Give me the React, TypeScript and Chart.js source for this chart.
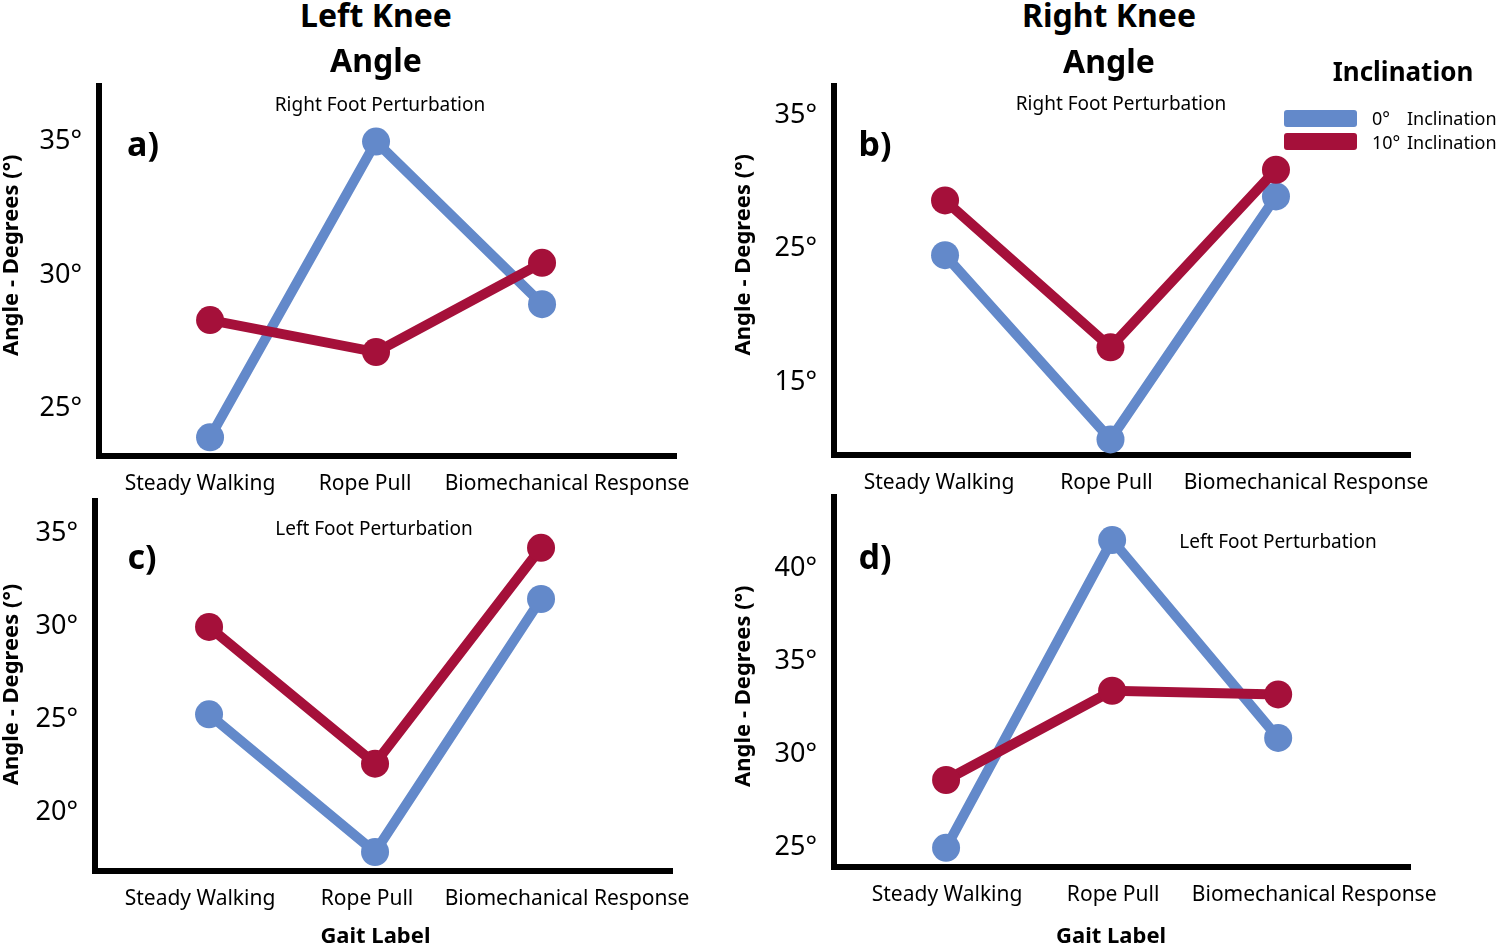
import { useEffect, useRef } from 'react';
import { Chart, registerables } from 'chart.js';

Chart.register(...registerables);

const FONT = "'Noto Sans', 'Open Sans', sans-serif";
const BLUE = '#6389ca';
const RED = '#a5103a';

// categories and series names
const gaitLabels = ['Steady Walking', 'Rope Pull', 'Biomechanical Response'];
const seriesNames = ['0° Inclination', '10° Inclination'];

// a) left knee, right foot perturbation
const leftKneeRightFoot0 = [23.9, 35.0, 28.9];
const leftKneeRightFoot10 = [28.3, 27.1, 30.45];
const ticksA = [25, 30, 35];

// b) right knee, right foot perturbation
const rightKneeRightFoot0 = [24.5, 10.7, 28.9];
const rightKneeRightFoot10 = [28.6, 17.6, 30.9];
const ticksB = [15, 25, 35];

// c) left knee, left foot perturbation
const leftKneeLeftFoot0 = [25.25, 17.85, 31.45];
const leftKneeLeftFoot10 = [29.95, 22.6, 34.2];
const ticksC = [20, 25, 30, 35];

// d) right knee, left foot perturbation
const rightKneeLeftFoot0 = [24.95, 41.5, 30.86];
const rightKneeLeftFoot10 = [28.6, 33.4, 33.2];
const ticksD = [25, 30, 35, 40];

type Box = { left: number; top: number; width: number; height: number };
type Area = { left: number; right: number; top: number; bottom: number };
type PanelSpec = {
  id: string;
  box: Box;
  area: Area;
  xRange: [number, number];
  yRange: [number, number];
  ticks: number[];
  zero: number[];
  ten: number[];
  xTitle: boolean;
  // small hand-placed shifts of the category labels, in px
  labelNudge: number[];
  // spaces around the axis titles to move them off centre like the original
  yTitlePad: [number, number];
  xTitlePad: number;
};

const panels: PanelSpec[] = [
  {
    id: 'a',
    box: { left: 0, top: 75, width: 720, height: 425 },
    area: { left: 99, right: 677, top: 83, bottom: 456 },
    xRange: [-0.669, 2.813],
    yRange: [23.2, 37.2],
    ticks: ticksA,
    zero: leftKneeRightFoot0,
    ten: leftKneeRightFoot10,
    xTitle: false,
    labelNudge: [-10, -11, 25],
    yTitlePad: [5, 0],
    xTitlePad: 0,
  },
  {
    id: 'b',
    box: { left: 732, top: 75, width: 768, height: 425 },
    area: { left: 834, right: 1411, top: 83, bottom: 455 },
    xRange: [-0.671, 2.816],
    yRange: [9.53, 37.4],
    ticks: ticksB,
    zero: rightKneeRightFoot0,
    ten: rightKneeRightFoot10,
    xTitle: false,
    labelNudge: [-6, -4, 30],
    yTitlePad: [5, 0],
    xTitlePad: 0,
  },
  {
    id: 'c',
    box: { left: 0, top: 490, width: 720, height: 458 },
    area: { left: 95, right: 673, top: 498, bottom: 871 },
    xRange: [-0.687, 2.795],
    yRange: [16.83, 36.88],
    ticks: ticksC,
    zero: leftKneeLeftFoot0,
    ten: leftKneeLeftFoot10,
    xTitle: true,
    labelNudge: [-9, -8, 26],
    yTitlePad: [0, 0],
    xTitlePad: 3,
  },
  {
    id: 'd',
    box: { left: 732, top: 486, width: 768, height: 462 },
    area: { left: 834, right: 1411, top: 494, bottom: 867 },
    xRange: [-0.675, 2.8],
    yRange: [23.92, 43.98],
    ticks: ticksD,
    zero: rightKneeLeftFoot0,
    ten: rightKneeLeftFoot10,
    xTitle: true,
    labelNudge: [1, 1, 36],
    yTitlePad: [0, 2],
    xTitlePad: 4,
  },
];

// thick black L-shaped axes, drawn under the lines
const axisFrame = {
  id: 'axisFrame',
  beforeDatasetsDraw(chart: Chart) {
    const { ctx, chartArea } = chart;
    const { left, right, top, bottom } = chartArea;
    ctx.save();
    ctx.strokeStyle = '#000';
    ctx.lineWidth = 6;
    ctx.lineJoin = 'miter';
    ctx.beginPath();
    ctx.moveTo(left, top);
    ctx.lineTo(left, bottom);
    ctx.lineTo(right, bottom);
    ctx.stroke();
    ctx.restore();
  },
};

function series(values: number[], label: string, color: string, order: number) {
  return {
    label,
    data: values.map((y, i) => ({ x: i, y })),
    borderColor: color,
    backgroundColor: color,
    pointBackgroundColor: color,
    pointBorderColor: color,
    pointBorderWidth: 0,
    pointRadius: 14,
    pointHoverRadius: 14,
    borderWidth: 10,
    tension: 0,
    order,
    clip: false as const,
  };
}

function KneePanel({ p }: { p: PanelSpec }) {
  const canvasRef = useRef<HTMLCanvasElement | null>(null);

  useEffect(() => {
    const canvas = canvasRef.current;
    if (!canvas) return;

    // category labels under the x axis, placed through the x scale
    const gaitTicks = {
      id: 'gaitTicks',
      afterDraw(chart: Chart) {
        const { ctx, chartArea } = chart;
        const xScale = chart.scales.x;
        ctx.save();
        ctx.fillStyle = '#000';
        ctx.font = `21px ${FONT}`;
        ctx.textAlign = 'center';
        ctx.textBaseline = 'middle';
        gaitLabels.forEach((label, i) => {
          ctx.fillText(label, xScale.getPixelForValue(i) + p.labelNudge[i], chartArea.bottom + 28);
        });
        ctx.restore();
      },
    };

    const yTitle = ' '.repeat(p.yTitlePad[0]) + 'Angle - Degrees (°)' + ' '.repeat(p.yTitlePad[1]);
    const xTitle = 'Gait Label' + ' '.repeat(p.xTitlePad);

    const chart = new Chart(canvas, {
      type: 'line',
      data: {
        datasets: [series(p.zero, seriesNames[0], BLUE, 1), series(p.ten, seriesNames[1], RED, 0)],
      },
      options: {
        responsive: false,
        animation: false,
        events: [],
        layout: {
          autoPadding: false,
          padding: {
            top: p.area.top - p.box.top,
            right: p.box.left + p.box.width - p.area.right,
            bottom: 0,
            left: 0,
          },
        },
        plugins: {
          legend: { display: false },
          tooltip: { enabled: false },
        },
        scales: {
          x: {
            type: 'linear',
            min: p.xRange[0],
            max: p.xRange[1],
            afterBuildTicks: (scale: any) => {
              scale.ticks = gaitLabels.map((_, i) => ({ value: i }));
            },
            afterFit: (scale: any) => {
              scale.height = p.box.top + p.box.height - p.area.bottom;
              scale.paddingLeft = 0;
              scale.paddingRight = 0;
            },
            grid: { display: false, drawTicks: false },
            border: { display: false },
            ticks: { display: false },
            title: {
              display: p.xTitle,
              text: xTitle,
              color: '#000',
              padding: 0,
              font: { family: FONT, size: 22, weight: 'bold', lineHeight: 1 },
            },
          },
          y: {
            min: p.yRange[0],
            max: p.yRange[1],
            afterBuildTicks: (scale: any) => {
              scale.ticks = p.ticks.map((v) => ({ value: v }));
            },
            afterFit: (scale: any) => {
              scale.width = p.area.left - p.box.left;
              scale.paddingTop = 0;
              scale.paddingBottom = 0;
            },
            grid: { display: false, drawTicks: false },
            border: { display: false },
            ticks: {
              color: '#000',
              padding: 17,
              font: { family: FONT, size: 27 },
              callback: (value) => `${value}°`,
            },
            title: {
              display: true,
              text: yTitle,
              color: '#000',
              padding: { top: 1, bottom: 0 },
              font: { family: FONT, size: 22, weight: 'bold', lineHeight: 1 },
            },
          },
        },
      },
      plugins: [axisFrame, gaitTicks],
    });

    return () => chart.destroy();
  }, [p]);

  return (
    <canvas
      ref={canvasRef}
      width={p.box.width}
      height={p.box.height}
      style={{ position: 'absolute', left: p.box.left, top: p.box.top, width: p.box.width, height: p.box.height }}
    />
  );
}

function Txt(props: { x: number; y: number; size: number; bold?: boolean; left?: boolean; children: any }) {
  return (
    <div
      style={{
        position: 'absolute',
        left: props.x,
        top: props.y,
        transform: props.left ? 'translate(0, -50%)' : 'translate(-50%, -50%)',
        fontFamily: FONT,
        fontSize: props.size,
        fontWeight: props.bold ? 700 : 400,
        lineHeight: 1,
        whiteSpace: 'nowrap',
        color: '#000',
      }}
    >
      {props.children}
    </div>
  );
}

export default function App() {
  return (
    <div
      style={{
        position: 'absolute',
        left: 0,
        top: 0,
        width: 1500,
        height: 948,
        background: '#fff',
        overflow: 'hidden',
      }}
    >
      {panels.map((p) => (
        <KneePanel key={p.id} p={p} />
      ))}

      <Txt x={376} y={15} size={32} bold>Left Knee</Txt>
      <Txt x={376} y={60} size={32} bold>Angle</Txt>
      <Txt x={1109} y={15} size={32} bold>Right Knee</Txt>
      <Txt x={1109} y={61} size={32} bold>Angle</Txt>

      <Txt x={380} y={104} size={19}>Right Foot Perturbation</Txt>
      <Txt x={1121} y={103} size={19}>Right Foot Perturbation</Txt>
      <Txt x={374} y={528} size={19}>Left Foot Perturbation</Txt>
      <Txt x={1278} y={541} size={19}>Left Foot Perturbation</Txt>

      <Txt x={143} y={143} size={34} bold>a)</Txt>
      <Txt x={875} y={143} size={34} bold>b)</Txt>
      <Txt x={142} y={556} size={34} bold>c)</Txt>
      <Txt x={875} y={556} size={34} bold>d)</Txt>

      <Txt x={1403} y={71} size={26} bold>Inclination</Txt>
      <div style={{ position: 'absolute', left: 1284, top: 110, width: 73, height: 17, borderRadius: 3, background: BLUE }} />
      <div style={{ position: 'absolute', left: 1284, top: 133, width: 73, height: 17, borderRadius: 3, background: RED }} />
      <Txt x={1372} y={118} size={18} left>0°</Txt>
      <Txt x={1407} y={118} size={18} left>Inclination</Txt>
      <Txt x={1372} y={142} size={18} left>10°</Txt>
      <Txt x={1407} y={142} size={18} left>Inclination</Txt>
    </div>
  );
}
